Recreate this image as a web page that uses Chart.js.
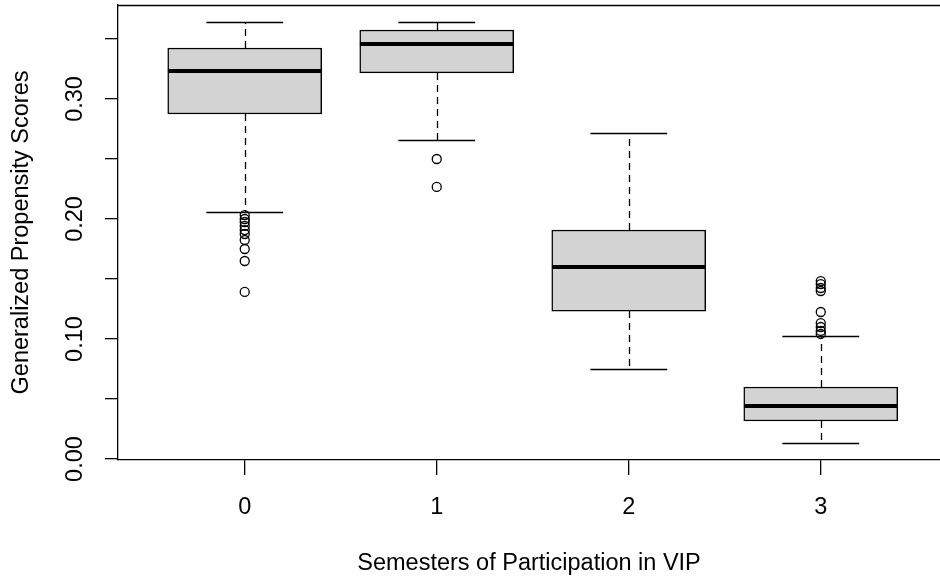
<!DOCTYPE html>
<html>
<head>
<meta charset="utf-8">
<script src="https://cdn.jsdelivr.net/npm/chart.js@4"></script>
<style>
  html, body { margin: 0; padding: 0; background: #fff; overflow: hidden; }
  #wrap { position: relative; width: 940px; height: 580px; }
</style>
</head>
<body>
<div id="wrap"><canvas id="boxChart"></canvas></div>
<script>
// values
const categories = ['0', '1', '2', '3'];
const whiskerLow = [0.2058, 0.2658, 0.0750, 0.0133];
const q1 = [0.2875, 0.3217, 0.1233, 0.0317];
const medians = [0.3233, 0.3458, 0.1600, 0.0442];
const q3 = [0.3425, 0.3575, 0.1908, 0.0600];
const whiskerHigh = [0.3642, 0.3642, 0.2717, 0.1025];

const outliers0 = [0.2033, 0.2000, 0.1975, 0.1942, 0.1908, 0.1875, 0.1825, 0.1750, 0.1650, 0.1392];
const outliers1 = [0.2500, 0.2267];
const outliers2 = [];
const outliers3 = [0.1483, 0.1458, 0.1425, 0.1400, 0.1225, 0.1133, 0.1100, 0.1067, 0.1042];

const yTicks = [0, 0.05, 0.10, 0.15, 0.20, 0.25, 0.30, 0.35];
const yTickLabels = [0, 0.10, 0.20, 0.30];

const xTitle = 'Semesters of Participation in VIP';
const yTitle = 'Generalized Propensity Scores';

const FONT = "'Liberation Sans', Arial, sans-serif";
const FSIZE = 23.5;

const outlierPoints = [];
[outliers0, outliers1, outliers2, outliers3].forEach((list, i) => {
    list.forEach(v => outlierPoints.push({ x: i, y: v }));
});

// whiskers, medians, frame and the rotated y labels
const boxExtras = {
    id: 'boxExtras',
    beforeDatasetsDraw(chart) {
        const ctx = chart.ctx;
        const xs = chart.scales.x, ys = chart.scales.y;
        ctx.save();
        ctx.strokeStyle = '#000';
        ctx.lineWidth = 1.3;
        categories.forEach((c, i) => {
            const cx = Math.round(xs.getPixelForValue(i)) + 0.5;
            ctx.setLineDash([7, 5]);
            ctx.beginPath();
            ctx.moveTo(cx, ys.getPixelForValue(q3[i]));
            ctx.lineTo(cx, ys.getPixelForValue(whiskerHigh[i]));
            ctx.moveTo(cx, ys.getPixelForValue(q1[i]));
            ctx.lineTo(cx, ys.getPixelForValue(whiskerLow[i]));
            ctx.stroke();
            ctx.setLineDash([]);
            ctx.beginPath();
            [whiskerHigh[i], whiskerLow[i]].forEach(v => {
                const y = Math.round(ys.getPixelForValue(v)) + 0.5;
                ctx.moveTo(xs.getPixelForValue(i - 0.2), y);
                ctx.lineTo(xs.getPixelForValue(i + 0.2), y);
            });
            ctx.stroke();
        });
        ctx.restore();
    },
    afterDatasetsDraw(chart) {
        const ctx = chart.ctx;
        const xs = chart.scales.x, ys = chart.scales.y;
        ctx.save();
        ctx.strokeStyle = '#000';
        ctx.lineWidth = 4.2;
        ctx.beginPath();
        categories.forEach((c, i) => {
            const y = ys.getPixelForValue(medians[i]);
            ctx.moveTo(xs.getPixelForValue(i - 0.4), y);
            ctx.lineTo(xs.getPixelForValue(i + 0.4), y);
        });
        ctx.stroke();
        ctx.restore();
    },
    afterDraw(chart) {
        const ctx = chart.ctx;
        const area = chart.chartArea;
        const ys = chart.scales.y;
        ctx.save();
        ctx.strokeStyle = '#000';
        ctx.lineWidth = 1.3;
        ctx.beginPath();
        ctx.moveTo(area.left, area.top + 0.5);
        ctx.lineTo(area.right, area.top + 0.5);
        ctx.stroke();

        ctx.fillStyle = '#000';
        ctx.font = FSIZE + 'px ' + FONT;
        ctx.textAlign = 'center';
        ctx.textBaseline = 'middle';
        yTickLabels.forEach(v => {
            const y = ys.getPixelForValue(v);
            ctx.save();
            ctx.translate(76, y);
            ctx.rotate(-Math.PI / 2);
            ctx.fillText(v.toFixed(2), 0, 0);
            ctx.restore();
        });
        ctx.restore();
    }
};

new Chart(document.getElementById('boxChart'), {
    type: 'bar',
    data: {
        datasets: [{
            label: 'box',
            data: categories.map((c, i) => ({ x: i, y: [q1[i], q3[i]] })),
            backgroundColor: '#d3d3d3',
            borderColor: '#000',
            borderWidth: 1.5,
            borderSkipped: false,
            barThickness: 154,
            order: 2
        }, {
            type: 'scatter',
            label: 'outliers',
            data: outlierPoints,
            pointStyle: 'circle',
            pointRadius: 4.5,
            borderWidth: 1.3,
            borderColor: '#000',
            backgroundColor: 'rgba(0,0,0,0)',
            showLine: false,
            order: 1
        }]
    },
    options: {
        responsive: true,
        maintainAspectRatio: false,
        animation: false,
        layout: { autoPadding: false, padding: { top: 5, right: 0, left: 0, bottom: 0 } },
        plugins: {
            legend: { display: false },
            tooltip: { enabled: false }
        },
        scales: {
            x: {
                type: 'linear',
                offset: false,
                min: -0.66,
                max: 3.621,
                afterBuildTicks: s => { s.ticks = categories.map((c, i) => ({ value: i })); },
                afterFit: s => { s.height = 120; },
                grid: { offset: false, drawOnChartArea: false, color: '#000', tickLength: 15, lineWidth: 1.3 },
                border: { display: true, color: '#000', width: 1.3 },
                ticks: {
                    color: '#000',
                    font: { family: FONT, size: FSIZE },
                    padding: 18,
                    callback: v => categories[v]
                },
                title: {
                    display: true,
                    text: xTitle,
                    color: '#000',
                    font: { family: FONT, size: FSIZE },
                    padding: { top: 0, bottom: 2 }
                }
            },
            y: {
                min: -0.0008,
                max: 0.3783,
                afterBuildTicks: s => { s.ticks = yTicks.map(v => ({ value: v })); },
                afterFit: s => { s.width = 118; },
                grid: { drawOnChartArea: false, color: '#000', tickLength: 13, lineWidth: 1.3 },
                border: { display: true, color: '#000', width: 1.3 },
                ticks: { display: false },
                title: {
                    display: true,
                    text: yTitle,
                    color: '#000',
                    font: { family: FONT, size: FSIZE },
                    padding: { top: 7, bottom: 0 }
                }
            }
        }
    },
    plugins: [boxExtras]
});
</script>
</body>
</html>
